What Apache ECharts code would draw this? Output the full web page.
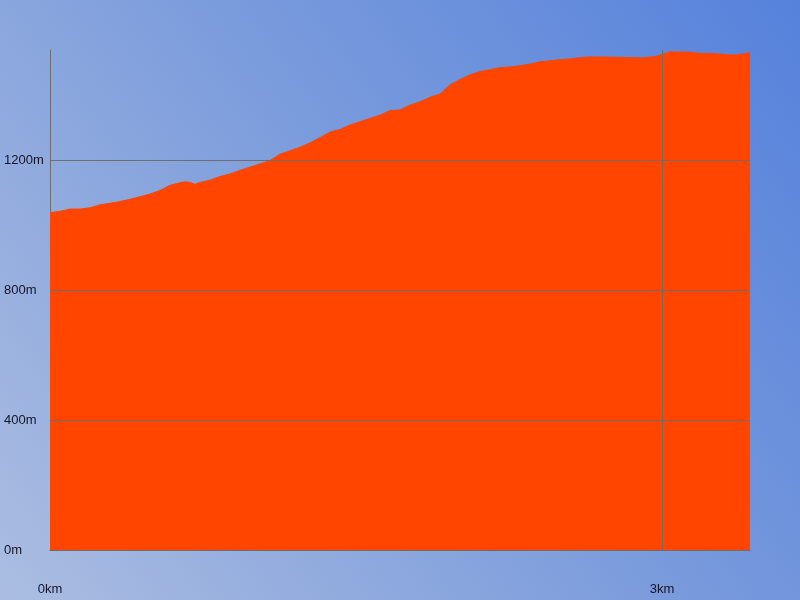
<!DOCTYPE html>
<html>
<head>
<meta charset="utf-8">
<script src="https://cdn.jsdelivr.net/npm/echarts@6/dist/echarts.min.js"></script>
<style>html,body{margin:0;padding:0;}#c{width:800px;height:600px;}</style>
</head>
<body>
<div id="c"></div>
<script>
var distKm = [0, 0.049, 0.098, 0.147, 0.196, 0.245, 0.294, 0.343, 0.392, 0.441, 0.490, 0.539, 0.588, 0.637, 0.662, 0.686, 0.711, 0.735, 0.784, 0.833, 0.882, 0.931, 0.980, 1.029, 1.078, 1.127, 1.176, 1.225, 1.275, 1.324, 1.373, 1.422, 1.471, 1.520, 1.569, 1.618, 1.667, 1.716, 1.765, 1.814, 1.863, 1.912, 1.961, 2.010, 2.059, 2.108, 2.157, 2.206, 2.255, 2.304, 2.353, 2.402, 2.451, 2.500, 2.549, 2.598, 2.647, 2.696, 2.794, 2.892, 2.966, 3.015, 3.039, 3.088, 3.137, 3.186, 3.235, 3.284, 3.333, 3.382, 3.407, 3.431];
var elevM = [1038, 1042, 1049, 1049, 1053, 1062, 1067, 1072, 1079, 1087, 1095, 1106, 1122, 1130, 1133, 1131, 1125, 1131, 1138, 1149, 1157, 1168, 1178, 1188, 1198, 1218, 1228, 1239, 1253, 1269, 1286, 1294, 1308, 1318, 1328, 1338, 1352, 1354, 1369, 1379, 1393, 1403, 1431, 1448, 1462, 1472, 1478, 1484, 1486, 1490, 1495, 1502, 1505, 1509, 1511, 1515, 1517, 1517, 1516, 1514, 1518, 1528, 1533, 1532, 1532, 1528, 1528, 1526, 1523, 1524, 1528, 1530];
var yTicks = [400, 800, 1200];
var xTicks = [3];
var xMax = 3.4314;
var yMax = 1538.46;

var chart = echarts.init(document.getElementById('c'));
var pts = distKm.map(function (d, i) { return [d, elevM[i]]; });
var gridLines = yTicks.map(function (v) { return { yAxis: v }; })
  .concat(xTicks.map(function (v) { return { xAxis: v }; }));
var labelFont = { fontFamily: 'Liberation Sans', fontSize: 13, color: '#141428' };
chart.setOption({
  animation: false,
  backgroundColor: {
    type: 'linear', x: 0, y: 1, x2: 1, y2: 0,
    colorStops: [
      { offset: 0, color: '#abbde1' },
      { offset: 0.5, color: '#7d9ddc' },
      { offset: 1, color: '#5682dc' }
    ]
  },
  grid: { left: 50, right: 50, top: 50, bottom: 50 },
  xAxis: {
    type: 'value', min: 0, max: xMax, interval: 3,
    axisLine: { show: true, lineStyle: { color: '#6e6e6e', width: 1 } },
    axisTick: { show: false },
    splitLine: { show: false },
    axisLabel: Object.assign({
      margin: 33, showMaxLabel: false,
      formatter: function (v) { return (Math.abs(v - Math.round(v)) < 1e-9) ? v + 'km' : ''; }
    }, labelFont)
  },
  yAxis: {
    type: 'value', min: 0, max: yMax, interval: 400,
    axisLine: { show: true, lineStyle: { color: '#6e6e6e', width: 1 } },
    axisTick: { show: false },
    splitLine: { show: false },
    axisLabel: Object.assign({
      margin: 46, align: 'left', showMaxLabel: false,
      formatter: function (v) { return (v % 400 === 0) ? v + 'm' : ''; }
    }, labelFont)
  },
  series: [{
    type: 'line',
    data: pts,
    showSymbol: false,
    lineStyle: { color: '#ff4500', width: 1 },
    itemStyle: { color: '#ff4500' },
    areaStyle: { color: '#ff4500', opacity: 1 },
    markLine: {
      silent: true,
      symbol: 'none',
      label: { show: false },
      lineStyle: { color: '#6e6e6e', width: 1, type: 'solid' },
      data: gridLines
    }
  }]
});
</script>
</body>
</html>
